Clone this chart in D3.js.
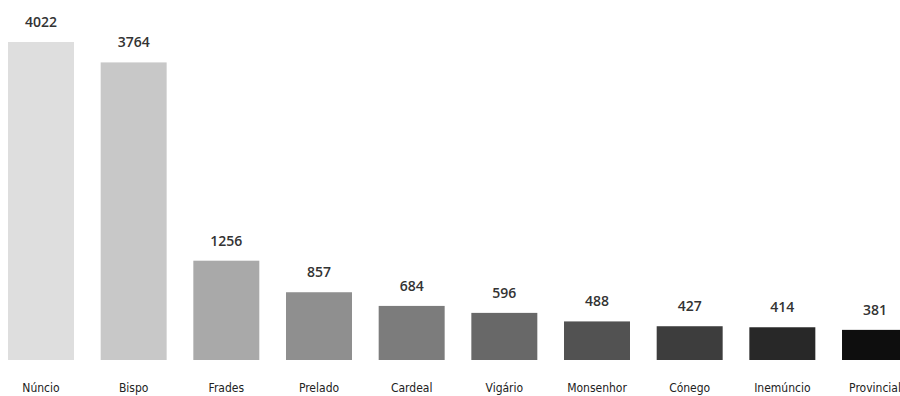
<!DOCTYPE html>
<html>
<head>
<meta charset="utf-8">
<script src="https://cdn.jsdelivr.net/npm/d3@7"></script>
<style>
  html, body { margin: 0; padding: 0; background: #fff; }
  svg { display: block; }
</style>
</head>
<body>
<div id="chart"></div>
<script>
const categories = ['Núncio', 'Bispo', 'Frades', 'Prelado', 'Cardeal', 'Vigário', 'Monsenhor', 'Cónego', 'Inemúncio', 'Provincial'];
const values = [4022, 3764, 1256, 857, 684, 596, 488, 427, 414, 381];
const shades = ['#dedede', '#c8c8c8', '#a9a9a9', '#8f8f8f', '#7c7c7c', '#686868', '#525252', '#3d3d3d', '#282828', '#0e0e0e'];

const width = 900, height = 396;

const svg = d3.select('#chart')
  .append('svg')
  .attr('width', width)
  .attr('height', height);

const x = d3.scaleBand()
  .domain(categories)
  .range([8, 908])
  .paddingInner(0.288)
  .paddingOuter(0);

const y = d3.scaleLinear()
  .domain([0, d3.max(values)])
  .range([360, 42]);

const data = categories.map((c, i) => ({ name: c, value: values[i], color: shades[i] }));

// bars
svg.append('g')
  .selectAll('rect')
  .data(data)
  .enter()
  .append('rect')
  .attr('x', d => x(d.name))
  .attr('y', d => y(d.value))
  .attr('width', x.bandwidth())
  .attr('height', d => y(0) - y(d.value))
  .attr('fill', d => d.color);

// value labels
svg.append('g')
  .selectAll('text')
  .data(data)
  .enter()
  .append('text')
  .attr('x', d => x(d.name) + x.bandwidth() / 2)
  .attr('y', d => y(d.value) - 15)
  .attr('text-anchor', 'middle')
  .attr('fill', '#333')
  .style('font-family', '"Open Sans", sans-serif')
  .style('font-size', '14px')
  .style('font-weight', '600')
  .text(d => d.value);

// category axis, no line or ticks
const xAxis = svg.append('g')
  .attr('transform', `translate(0,${y(0)})`)
  .call(d3.axisBottom(x).tickSize(0).tickPadding(23));
xAxis.select('.domain').remove();
xAxis.selectAll('text')
  .attr('fill', '#222')
  .style('font-family', '"DejaVu Sans Condensed", "DejaVu Sans", sans-serif')
  .style('font-size', '12px');
</script>
</body>
</html>
